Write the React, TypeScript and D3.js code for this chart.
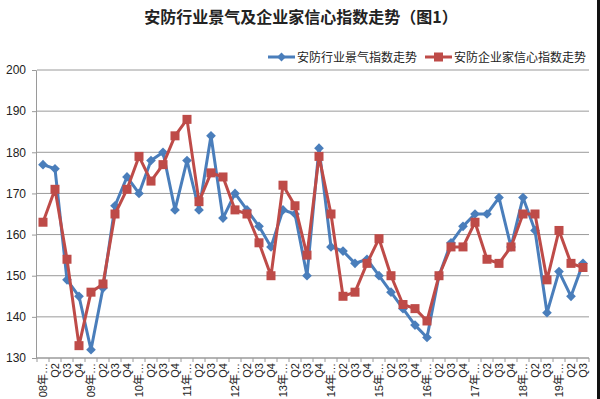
import React, { useRef, useEffect } from "react";
import * as d3 from "d3";

// categories: 08Q1 .. 19Q3 (18 has only Q1-Q3 on the axis)
const years = ["08", "09", "10", "11", "12", "13", "14", "15", "16", "17", "18", "19"];
const quartersPerYear = [4, 4, 4, 4, 4, 4, 4, 4, 4, 4, 3, 3];

const categories: string[] = [];
const tickLabels: string[] = [];
years.forEach((yr, yi) => {
  for (let q = 1; q <= quartersPerYear[yi]; q++) {
    categories.push(`${yr}年Q${q}`);
    tickLabels.push(q === 1 ? `${yr}年…` : `Q${q}`);
  }
});

const prosperity = [
  177, 176, 149, 145, 132, 147, 167, 174, 170, 178, 180, 166,
  178, 166, 184, 164, 170, 166, 162, 157, 166, 165, 150, 181,
  157, 156, 153, 154, 150, 146, 142, 138, 135, 150, 158, 162,
  165, 165, 169, 157, 169, 161, 141, 151, 145, 153,
];

const confidence = [
  163, 171, 154, 133, 146, 148, 165, 171, 179, 173, 177, 184,
  188, 168, 175, 174, 166, 165, 158, 150, 172, 167, 155, 179,
  165, 145, 146, 153, 159, 150, 143, 142, 139, 150, 157, 157,
  163, 154, 153, 157, 165, 165, 149, 161, 153, 152,
];

const yTicks = [130, 140, 150, 160, 170, 180, 190, 200];

const seriesNames = ["安防行业景气指数走势", "安防企业家信心指数走势"];
const title = "安防行业景气及企业家信心指数走势（图1）";

const BLUE = "#4a7ebb";
const RED = "#be4b48";

const App = () => {
  const svgRef = useRef<SVGSVGElement>(null);

  useEffect(() => {
    const svg = d3.select(svgRef.current);
    svg.selectAll("*").remove();

    const width = 600;
    const height = 399;
    const margin = { top: 70, right: 11, bottom: 41, left: 37 };
    const font = "'Liberation Sans', 'Noto Sans CJK SC', sans-serif";

    svg.attr("width", width).attr("height", height);
    svg.append("rect").attr("width", width).attr("height", height).attr("fill", "#fff");

    const x = d3.scaleBand().domain(categories).range([margin.left, width - margin.right]);
    const y = d3.scaleLinear().domain([130, 200]).range([height - margin.bottom, margin.top]);
    const cx = (c: string) => (x(c) as number) + x.bandwidth() / 2;

    // title
    svg.append("text")
      .attr("x", 301).attr("y", 23)
      .attr("text-anchor", "middle")
      .style("font-family", "'Noto Sans CJK SC', serif")
      .style("font-weight", 700)
      .style("font-size", "16px")
      .attr("fill", "#222")
      .text(title);

    // gridlines
    svg.append("g")
      .selectAll("line")
      .data(yTicks)
      .join("line")
      .attr("x1", margin.left).attr("x2", width - margin.right)
      .attr("y1", d => y(d)).attr("y2", d => y(d))
      .attr("stroke", "#9a9a9a").attr("stroke-width", 1);

    // y axis
    const yAxis = svg.append("g")
      .attr("transform", `translate(${margin.left - 1},0)`)
      .call(d3.axisLeft(y).tickValues(yTicks).tickSize(4).tickPadding(6));
    yAxis.select(".domain").attr("stroke", "#9a9a9a");
    yAxis.selectAll(".tick line").attr("stroke", "#9a9a9a");
    yAxis.selectAll("text").style("font-family", font).style("font-size", "12px").attr("fill", "#222");

    // x axis
    const xAxis = svg.append("g").attr("transform", `translate(0,${height - margin.bottom})`);
    xAxis.append("line")
      .attr("x1", margin.left - 1).attr("x2", width - margin.right)
      .attr("stroke", "#9a9a9a");
    xAxis.selectAll("line.tk")
      .data([...categories.map(c => x(c) as number), width - margin.right])
      .join("line")
      .attr("class", "tk")
      .attr("x1", d => d).attr("x2", d => d)
      .attr("y1", 0).attr("y2", 4)
      .attr("stroke", "#9a9a9a");
    xAxis.selectAll("text")
      .data(categories)
      .join("text")
      .attr("transform", d => `translate(${cx(d) + 4},5) rotate(-90)`)
      .attr("text-anchor", "end")
      .style("font-family", font)
      .style("font-size", "11px")
      .attr("fill", "#222")
      .text((d, i) => tickLabels[i]);

    const line = d3.line<number>()
      .x((d, i) => cx(categories[i]))
      .y(d => y(d));

    // blue series
    svg.append("path")
      .datum(prosperity)
      .attr("d", line)
      .attr("fill", "none")
      .attr("stroke", BLUE)
      .attr("stroke-width", 3)
      .attr("stroke-linejoin", "round");
    svg.append("g")
      .selectAll("path")
      .data(prosperity)
      .join("path")
      .attr("d", d3.symbol(d3.symbolDiamond2, 60))
      .attr("transform", (d, i) => `translate(${cx(categories[i])},${y(d)})`)
      .attr("fill", BLUE);

    // red series
    svg.append("path")
      .datum(confidence)
      .attr("d", line)
      .attr("fill", "none")
      .attr("stroke", RED)
      .attr("stroke-width", 3)
      .attr("stroke-linejoin", "round");
    svg.append("g")
      .selectAll("rect")
      .data(confidence)
      .join("rect")
      .attr("x", (d, i) => cx(categories[i]) - 4.5)
      .attr("y", d => y(d) - 4.5)
      .attr("width", 9).attr("height", 9)
      .attr("fill", RED);

    // legend
    const legend = svg.append("g").attr("transform", "translate(0,57)");
    const items = [
      { name: seriesNames[0], color: BLUE, x0: 268, kind: "diamond" },
      { name: seriesNames[1], color: RED, x0: 425, kind: "square" },
    ];
    items.forEach(it => {
      legend.append("line")
        .attr("x1", it.x0).attr("x2", it.x0 + 27)
        .attr("stroke", it.color).attr("stroke-width", 3);
      if (it.kind === "diamond") {
        legend.append("path")
          .attr("d", d3.symbol(d3.symbolDiamond2, 50))
          .attr("transform", `translate(${it.x0 + 13.5},0)`)
          .attr("fill", it.color);
      } else {
        legend.append("rect")
          .attr("x", it.x0 + 9).attr("y", -4.5)
          .attr("width", 9).attr("height", 9)
          .attr("fill", it.color);
      }
      legend.append("text")
        .attr("x", it.x0 + 29).attr("y", 4.5)
        .style("font-family", font)
        .style("font-size", "12px")
        .attr("fill", "#222")
        .text(it.name);
    });

    // dark frame edge on the right
    svg.append("rect").attr("x", 597).attr("y", 0).attr("width", 3).attr("height", height).attr("fill", "#111");
  }, []);

  return (
    <div>
      <style>{"body{margin:0}"}</style>
      <svg ref={svgRef} style={{ display: "block" }}></svg>
    </div>
  );
};

export default App;
